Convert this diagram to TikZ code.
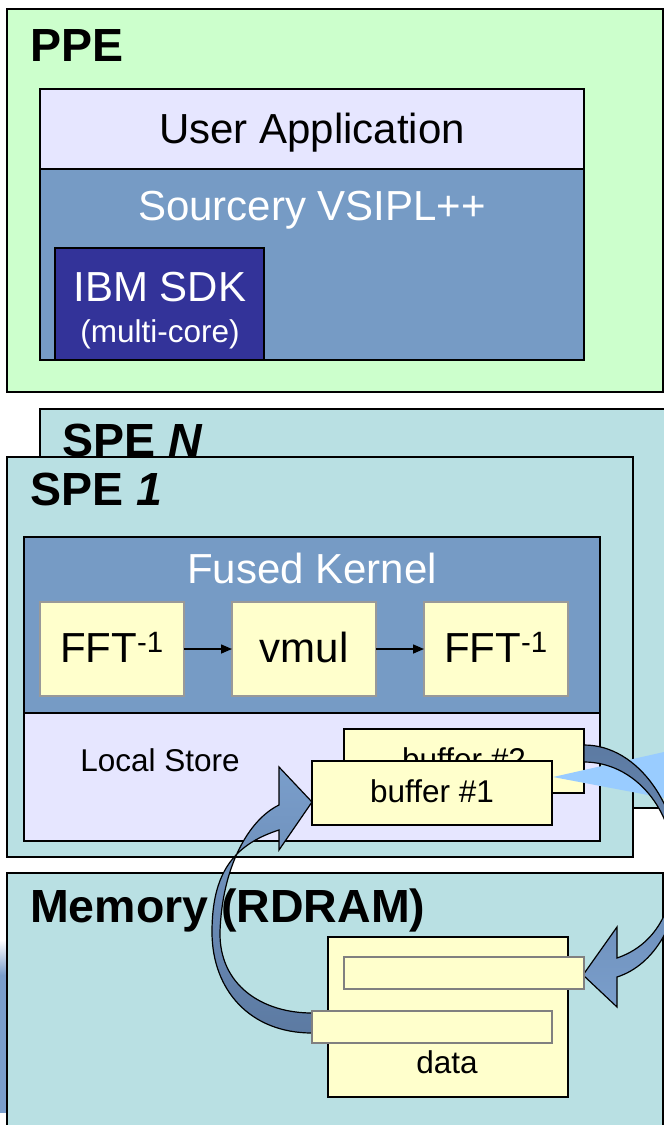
\documentclass[tikz,border=0pt]{standalone}
\usepackage{fontspec}
\setmainfont{Liberation Sans}
\usetikzlibrary{arrows.meta}
\definecolor{ppegreen}{HTML}{CCFFCC}
\definecolor{lav}{HTML}{E6E6FF}
\definecolor{steel}{RGB}{118,155,197}
\definecolor{sdkblue}{HTML}{333399}
\definecolor{specyan}{RGB}{185,224,227}
\definecolor{lyellow}{HTML}{FFFFCC}
\definecolor{wedgeblue}{HTML}{99CCFF}
\definecolor{arrowdark}{RGB}{92,122,162}
\definecolor{arrowlight}{RGB}{122,158,203}
\begin{document}
\begin{tikzpicture}[x=1pt,y=-1pt,
  box/.style={draw=black, line width=2pt, inner sep=0pt, outer sep=0pt, anchor=north west},
  fftbox/.style={draw=black!40, line width=1.5pt, fill=lyellow, inner sep=0pt, outer sep=0pt, anchor=north west, minimum width=144pt, minimum height=94pt},
  barbox/.style={draw=black!50, line width=1.5pt, fill=lyellow, inner sep=0pt, outer sep=0pt, anchor=north west, minimum width=240pt, minimum height=32pt},
  big/.style={font=\fontsize{42}{48}\selectfont, inner sep=0pt, anchor=base},
  small/.style={font=\fontsize{31.5}{36}\selectfont, inner sep=0pt, anchor=base},
  ttl/.style={font=\fontsize{46.5}{52}\selectfont\bfseries, inner sep=0pt, anchor=base west},
  blockarrow/.style={draw=black, line width=1.2pt, line join=miter},
  flow/.style={-{Triangle[length=11pt,width=9pt]}, line width=1.5pt, black}
]
\useasboundingbox (0,0) rectangle (664,1125);
\clip (0,0) rectangle (664,1125);
% ---------------- PPE ----------------
\node[box, fill=ppegreen, minimum width=656pt, minimum height=383pt] (ppe) at (7,9) {};
\node[ttl] (ppet) at (30,61) {PPE};
\node[box, fill=lav, minimum width=544pt, minimum height=80pt] (uapp) at (40,89) {};
\node[box, fill=steel, minimum width=544pt, minimum height=191pt] (vsipl) at (40,169) {};
\node[big] (uappt) at (312,143) {User Application};
\node[big, text=white] (vsiplt) at (312,220) {Sourcery VSIPL++};
\node[box, fill=sdkblue, minimum width=209pt, minimum height=112pt] (sdk) at (55,248) {};
\node[big, text=white] (sdkt) at (160,301) {IBM SDK};
\node[small, text=white] (sdkt2) at (160,342) {(multi-core)};
% ---------------- SPE N ----------------
\node[box, fill=specyan, minimum width=650pt, minimum height=399pt] (spen) at (40,409) {};
\node[ttl] (spent) at (62,456) {SPE \textit{N}};
% ---------------- SPE 1 ----------------
\node[box, fill=specyan, minimum width=626pt, minimum height=400pt] (spe1) at (7,457) {};
\node[ttl] (spe1t) at (30,505) {SPE \textit{1}};
\node[box, fill=steel, minimum width=576pt, minimum height=176pt] (fk) at (24,537) {};
\node[box, fill=lav, minimum width=576pt, minimum height=128pt] (ls) at (24,713) {};
\node[big, text=white] (fkt) at (312,583) {Fused Kernel};
\node[fftbox] (fft1) at (40,602) {};
\node[fftbox] (vmul) at (232,602) {};
\node[fftbox] (fft2) at (424,602) {};
\node[big] (fft1t) at (112,662) {FFT\textsuperscript{-1}};
\node[big] (vmult) at (304,662) {vmul};
\node[big] (fft2t) at (496,662) {FFT\textsuperscript{-1}};
\draw[flow] (fft1.east) -- (vmul.west);
\draw[flow] (vmul.east) -- (fft2.west);
\node[small] (lst) at (160,771) {Local Store};
% ---------------- Memory ----------------
\shade[top color=white, bottom color=arrowlight] (0,940) rectangle (7,975);
\fill[arrowlight] (0,975) rectangle (7,1113);
\node[box, fill=specyan, minimum width=656pt, minimum height=280pt] (mem) at (7,873) {};
\node[ttl] (memt) at (30,922) {Memory (RDRAM)};
\node[box, fill=lyellow, minimum width=240pt, minimum height=160pt] (data) at (328,937) {};
\node[small] (datat) at (447,1073) {data};
% ---------------- buffers ----------------
\node[box, fill=lyellow, minimum width=240pt, minimum height=64pt] (buf2) at (344,729) {};
\node[small] (buf2t) at (464,770) {buffer \#2};
\fill[wedgeblue] (553,777) -- (664,752) -- (664,798) -- cycle;
\node[box, fill=lyellow, minimum width=240pt, minimum height=64pt] (buf1) at (312,761) {};
\node[small] (buf1t) at (432,802) {buffer \#1};
% ---------------- curved block arrows ----------------
\shade[blockarrow, top color=arrowlight, bottom color=arrowdark]
  (312,802) -- (279,767) -- (279,805)
  .. controls (248,820) and (222,868) .. (220,932)
  .. controls (219,985) and (262,1013) .. (312,1013)
  -- (312,1033)
  .. controls (250,1033) and (212,990) .. (212,932)
  .. controls (212,875) and (232,845) .. (279,830)
  -- (279,850) -- cycle;
\shade[blockarrow, top color=arrowdark, bottom color=arrowlight]
  (583,975) -- (617,927) -- (617,958)
  .. controls (655,945) and (674,910) .. (674,866)
  .. controls (674,810) and (635,762) .. (584,762)
  -- (584,745)
  .. controls (640,745) and (680,810) .. (680,870)
  .. controls (680,920) and (655,965) .. (617,977)
  -- (617,1007) -- cycle;
% ---------------- data bars ----------------
\node[barbox] (bar1) at (344,957) {};
\node[barbox] (bar2) at (312,1011) {};
\end{tikzpicture}
\end{document}
